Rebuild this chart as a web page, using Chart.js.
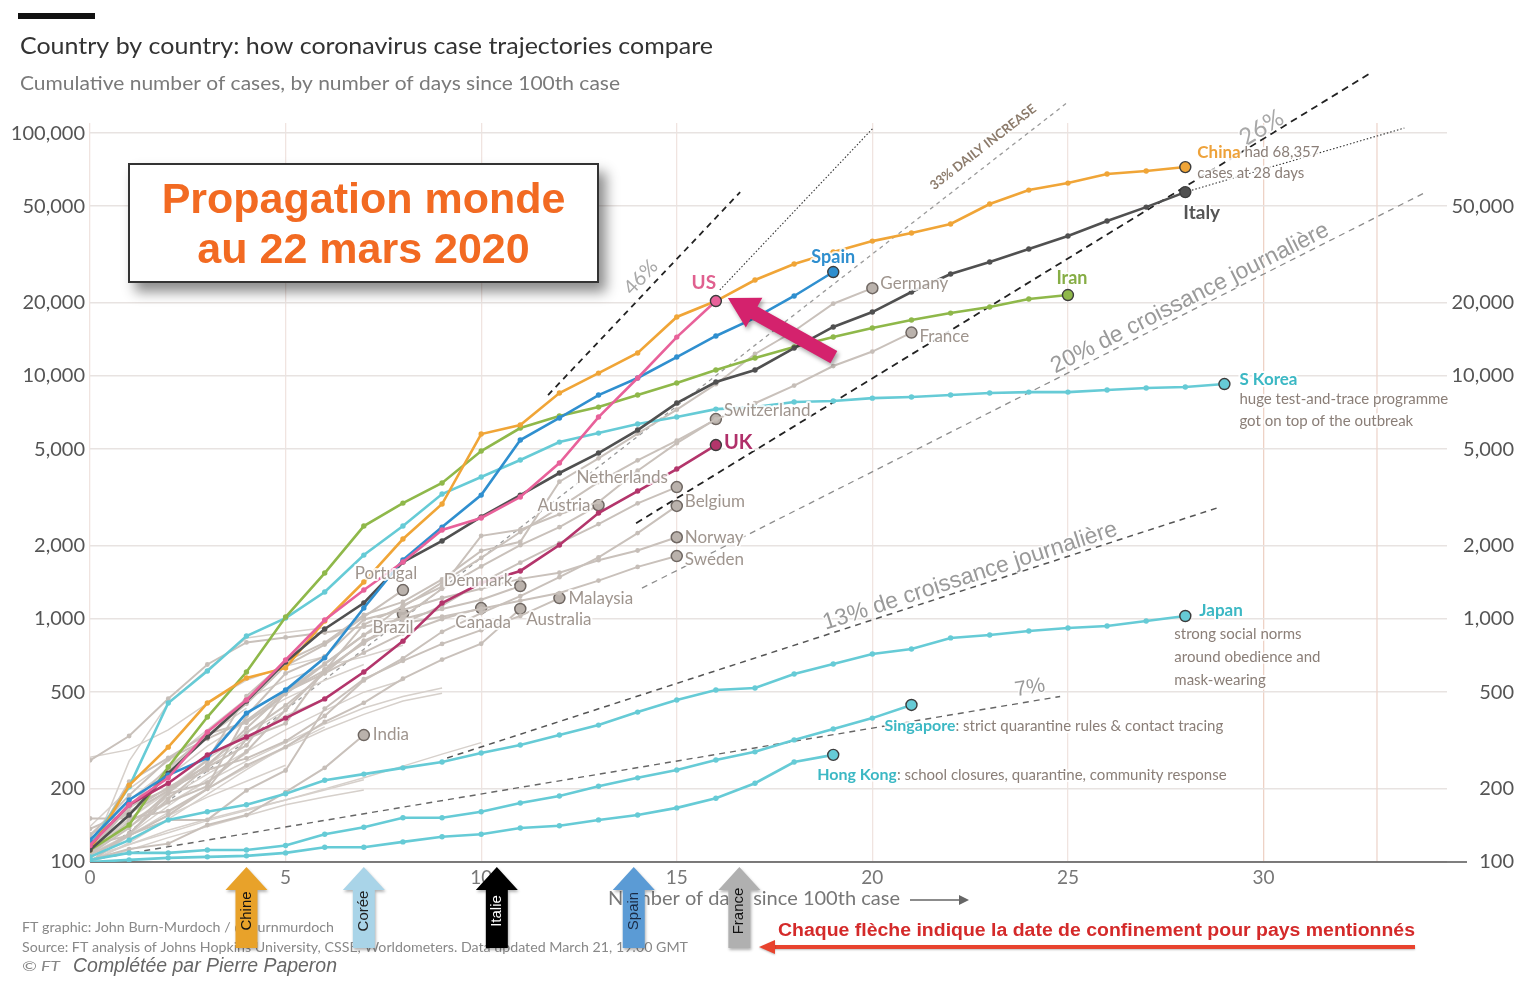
<!DOCTYPE html>
<html>
<head>
<meta charset="utf-8">
<script src="https://cdn.jsdelivr.net/npm/chart.js@4.4.1/dist/chart.umd.min.js"></script>
<style>
  html, body { margin: 0; padding: 0; background: #fff; }
  #wrap { position: relative; width: 1536px; height: 998px; overflow: hidden; }
  #chart { position: absolute; left: 0; top: 0; }
  #box {
    position: absolute; left: 128px; top: 163px; width: 467px; height: 116px;
    border: 2px solid #333; background: #fff;
    box-shadow: 7px 9px 12px rgba(0,0,0,0.45);
    display: flex; flex-direction: column; align-items: center; justify-content: center;
    font-family: "Liberation Sans", Arial, sans-serif; font-weight: bold;
    font-size: 43px; line-height: 50px; color: #f26a22;
  }
</style>
</head>
<body>
<div id="wrap">
  <canvas id="chart" width="1536" height="998"></canvas>
  <div id="box"><div>Propagation monde</div><div>au 22 mars 2020</div></div>
</div>
<script>
// ticks
var yTicks = [100, 200, 500, 1000, 2000, 5000, 10000, 20000, 50000, 100000];
var yTicksRight = [100, 200, 500, 1000, 2000, 5000, 10000, 20000, 50000];
var xTicks = [0, 5, 10, 15, 20, 25, 30];

// cumulative cases, one value per day since 100th case
var china = [112, 207, 297, 451, 572, 629, 982, 1420, 2134, 2973, 5770, 6290, 8510, 10280, 12440, 17500, 20350, 24840, 28900, 32380, 35920, 38760, 42230, 51030, 58250, 62250, 67800, 69800, 72440];
var us = [117, 172, 222, 343, 464, 678, 991, 1316, 1716, 2325, 2605, 3177, 4385, 6780, 9815, 14460, 20350];
var spain = [123, 180, 228, 268, 410, 510, 692, 1110, 1750, 2390, 3236, 5455, 6720, 8350, 9815, 11970, 14620, 17340, 21350, 26800];
var italy = [112, 156, 232, 327, 460, 665, 910, 1164, 1716, 2095, 2630, 3236, 3990, 4820, 5995, 7740, 9445, 10590, 13040, 15920, 18340, 22180, 26300, 29450, 33330, 37690, 43450, 49570, 57150];
var iran = [112, 142, 246, 395, 605, 1019, 1546, 2413, 3000, 3630, 4912, 6110, 6845, 7450, 8350, 9360, 10590, 11860, 13160, 14470, 15760, 17000, 18160, 19230, 20750, 21550];
var korea = [117, 204, 451, 611, 851, 1009, 1291, 1833, 2413, 3268, 3840, 4510, 5347, 5824, 6345, 6780, 7310, 7450, 7815, 7890, 8110, 8200, 8350, 8510, 8590, 8590, 8755, 8930, 9010, 9270];
var uk = [117, 172, 211, 276, 327, 391, 469, 605, 811, 1164, 1406, 1577, 2017, 2730, 3363, 4142, 5200];
var japan = [105, 123, 149, 161, 172, 191, 217, 230, 244, 258, 281, 303, 333, 366, 414, 464, 510, 520, 594, 653, 718, 753, 836, 859, 893, 918, 936, 982, 1029];
var singapore = [102, 109, 109, 112, 112, 117, 130, 139, 152, 152, 161, 175, 187, 205, 222, 239, 263, 284, 318, 353, 391, 443];
var hongKong = [100, 102, 104, 105, 106, 109, 115, 115, 121, 127, 130, 138, 141, 149, 156, 167, 183, 211, 258, 276];

var germany = [130, 159, 196, 262, 482, 670, 799, 1040, 1176, 1457, 1908, 2078, 3675, 4585, 5795, 7272, 9257, 12327, 15320, 19848, 23000];
var france = [100, 130, 191, 212, 285, 423, 613, 949, 1126, 1412, 1784, 2281, 2876, 3661, 4499, 5423, 6633, 7730, 9134, 10995, 12612, 15100];
var switzerland = [114, 214, 268, 337, 374, 491, 652, 858, 1139, 1359, 2200, 2330, 2700, 3028, 4075, 5294, 6650];
var netherlands = [128, 188, 265, 321, 382, 503, 614, 804, 959, 1135, 1413, 1705, 2051, 2460, 2994, 3490];
var belgium = [109, 169, 200, 239, 267, 314, 399, 559, 689, 886, 1058, 1243, 1486, 1795, 2257, 2920];
var austria = [104, 131, 182, 246, 302, 504, 655, 860, 1018, 1332, 1646, 2013, 2388, 2940];
var norway = [108, 147, 176, 205, 400, 598, 702, 996, 1090, 1221, 1333, 1463, 1550, 1746, 1914, 2170];
var sweden = [137, 161, 203, 248, 355, 500, 599, 814, 961, 1022, 1103, 1190, 1279, 1439, 1639, 1816];
var denmark = [262, 330, 470, 650, 801, 840, 880, 930, 1000, 1100, 1200, 1367];
var malaysia = [117, 129, 149, 149, 197, 238, 428, 566, 673, 790, 900, 1030, 1219];
var canada = [108, 138, 193, 252, 341, 441, 598, 727, 873, 1000, 1109];
var australia = [107, 128, 156, 200, 250, 297, 377, 452, 568, 681, 791, 1100];
var portugal = [112, 169, 245, 331, 448, 642, 785, 1020, 1315];
var brazil = [151, 151, 162, 200, 321, 372, 621, 793, 1049];
var india = [102, 113, 119, 142, 156, 194, 244, 333];

// unlabelled countries (thin grey lines)
var otherLines = [
  [270, 290, 350, 450, 560, 640, 700],
  [105, 260, 450, 620, 835, 880, 920],
  [105, 118, 132, 148, 163, 180, 200, 222, 248, 278, 310],
  [110, 140, 175, 215, 260, 310, 370, 430, 480, 520],
  [100, 128, 160, 200, 245, 295, 350, 405, 460, 495],
  [118, 150, 195, 250, 320, 400, 470],
  [100, 112, 126, 140, 155, 172, 185, 198],
  [102, 118, 135, 150, 165, 180, 198, 218],
  [112, 150, 200, 265, 340, 420],
  [125, 165, 225, 300, 380, 470, 560, 650],
  [100, 130, 170, 220, 280],
  [108, 130, 155, 185, 215, 250],
  [115, 145, 185, 230, 285, 350, 420, 500, 560],
  [100, 120, 150, 190, 240, 300, 360],
  [130, 180, 240, 330, 430],
  [140, 200, 260, 350, 470, 560, 640, 700, 780]
];

// growth guide lines: [day, cases] at both ends
var line46 = [[11.71, 8350], [16.62, 57150]];
var lineDottedUS = [[16.10, 22600], [20.02, 104900]];
var line33 = [[0, 100], [24.97, 133000]];
var line26 = [[13.96, 2480], [32.77, 178000]];
var lineDottedItaly = [[28, 57150], [33.6, 104900]];
var line20 = [[14.11, 1340], [34.1, 56600]];
var line13 = [[9.13, 268], [28.8, 2860]];
var line7 = [[0, 102], [24.8, 480]];

// lockdown arrows under the axis
var lockdownNames = ['Chine', 'Corée', 'Italie', 'Spain', 'France'];
var lockdownDays = [4.0, 7.0, 10.4, 13.9, 16.6];

var CYAN = '#66cbd6';
var GREYLINE = '#c9c1bb';

var mainSeries = [
  { name: 'US', data: us, color: '#e8619a' },
  { name: 'UK', data: uk, color: '#b3356b' },
  { name: 'Spain', data: spain, color: '#2f8fcf' },
  { name: 'Italy', data: italy, color: '#505050' },
  { name: 'China', data: china, color: '#f0a537' },
  { name: 'Iran', data: iran, color: '#8fb84a' },
  { name: 'S Korea', data: korea, color: CYAN },
  { name: 'Japan', data: japan, color: CYAN },
  { name: 'Singapore', data: singapore, color: CYAN },
  { name: 'Hong Kong', data: hongKong, color: CYAN }
];
var greySeries = [
  { name: 'Germany', data: germany }, { name: 'France', data: france },
  { name: 'Switzerland', data: switzerland }, { name: 'Netherlands', data: netherlands },
  { name: 'Belgium', data: belgium }, { name: 'Austria', data: austria },
  { name: 'Norway', data: norway }, { name: 'Sweden', data: sweden },
  { name: 'Denmark', data: denmark }, { name: 'Malaysia', data: malaysia },
  { name: 'Canada', data: canada }, { name: 'Australia', data: australia },
  { name: 'Portugal', data: portugal }, { name: 'Brazil', data: brazil },
  { name: 'India', data: india }
];
var guides = [
  { name: 'g46', data: line46, color: '#222', width: 1.8, dash: [6, 5] },
  { name: 'gUS', data: lineDottedUS, color: '#333', width: 1.1, dash: [1.5, 2] },
  { name: 'g33', data: line33, color: '#9a9a9a', width: 1.3, dash: [4, 4] },
  { name: 'g26', data: line26, color: '#222', width: 1.8, dash: [7, 5] },
  { name: 'gIt', data: lineDottedItaly, color: '#333', width: 1.1, dash: [1.5, 2] },
  { name: 'g20', data: line20, color: '#8d8d8d', width: 1.3, dash: [6, 5] },
  { name: 'g13', data: line13, color: '#555', width: 1.5, dash: [6, 5] },
  { name: 'g7', data: line7, color: '#666', width: 1.4, dash: [6, 5] }
];

function toPoints(arr) { return arr.map(function (v, i) { return { x: i, y: v }; }); }
function isLast(c) { return c.dataIndex === c.dataset.data.length - 1; }

var datasets = [];
mainSeries.forEach(function (s, i) {
  datasets.push({
    label: s.name, data: toPoints(s.data), borderColor: s.color, borderWidth: 2.6,
    pointRadius: function (c) { return isLast(c) ? 5.5 : 2.7; },
    pointBackgroundColor: s.color,
    pointBorderColor: function (c) { return isLast(c) ? '#3c3c3c' : s.color; },
    pointBorderWidth: function (c) { return isLast(c) ? 1.4 : 0; },
    order: i
  });
});
greySeries.forEach(function (s, i) {
  datasets.push({
    label: s.name, data: toPoints(s.data), borderColor: GREYLINE, borderWidth: 2,
    pointRadius: function (c) { return isLast(c) ? 5.5 : 2.4; },
    pointBackgroundColor: function (c) { return isLast(c) ? '#bab2ac' : '#c6beb8'; },
    pointBorderColor: function (c) { return isLast(c) ? '#6f6762' : '#c6beb8'; },
    pointBorderWidth: function (c) { return isLast(c) ? 1.5 : 0; },
    order: 20 + i
  });
});
otherLines.forEach(function (arr, i) {
  datasets.push({
    label: 'other' + i, data: toPoints(arr), borderColor: '#d6d0cb', borderWidth: 1.5,
    pointRadius: 0, order: 50 + i
  });
});
guides.forEach(function (g, i) {
  datasets.push({
    label: g.name, data: g.data.map(function (p) { return { x: p[0], y: p[1] }; }),
    borderColor: g.color, borderWidth: g.width, borderDash: g.dash,
    pointRadius: 0, clip: false, order: 100 + i
  });
});

// labels next to the last point of a series
var seriesLabels = [
  { series: 'China', text: 'China', dx: 12, dy: -15, color: '#eea23a', font: 'bold 17px Lato',
    suffix: ' had 68,357', lines: ['cases at 28 days'], ldx: 12, ldy: 6 },
  { series: 'Italy', text: 'Italy', dx: -2, dy: 21, color: '#555', font: 'bold 19px Lato' },
  { series: 'Spain', text: 'Spain', dx: 0, dy: -15, align: 'center', color: '#2f8fcf', font: 'bold 18px Lato' },
  { series: 'US', text: 'US', dx: -12, dy: -18, align: 'center', color: '#e0608f', font: 'bold 19px Lato' },
  { series: 'Germany', text: 'Germany', dx: 8, dy: -5, color: '#9f958e', font: '17px Lato' },
  { series: 'France', text: 'France', dx: 8, dy: 4, color: '#9f958e', font: '17px Lato' },
  { series: 'Iran', text: 'Iran', dx: 4, dy: -17, align: 'center', color: '#86ad45', font: 'bold 18px Lato' },
  { series: 'S Korea', text: 'S Korea', dx: 15, dy: -5, color: '#3cb8c4', font: 'bold 17px Lato',
    lines: ['huge test-and-trace programme', 'got on top of the outbreak'], ldx: 15, ldy: 15 },
  { series: 'Switzerland', text: 'Switzerland', dx: 8, dy: -9, color: '#9f958e', font: '17px Lato' },
  { series: 'UK', text: 'UK', dx: 8, dy: -2, color: '#b0306a', font: 'bold 20px Lato' },
  { series: 'Netherlands', text: 'Netherlands', dx: -9, dy: -10, align: 'right', color: '#9f958e', font: '17px Lato' },
  { series: 'Belgium', text: 'Belgium', dx: 8, dy: -4, color: '#9f958e', font: '17px Lato' },
  { series: 'Austria', text: 'Austria', dx: -8, dy: 0, align: 'right', color: '#9f958e', font: '17px Lato' },
  { series: 'Norway', text: 'Norway', dx: 8, dy: 0, color: '#9f958e', font: '17px Lato' },
  { series: 'Sweden', text: 'Sweden', dx: 8, dy: 3, color: '#9f958e', font: '17px Lato' },
  { series: 'Denmark', text: 'Denmark', dx: -8, dy: -6, align: 'right', color: '#9f958e', font: '17px Lato' },
  { series: 'Malaysia', text: 'Malaysia', dx: 9, dy: 0, color: '#9f958e', font: '17px Lato' },
  { series: 'Canada', text: 'Canada', dx: 2, dy: 14, align: 'center', color: '#9f958e', font: '17px Lato' },
  { series: 'Australia', text: 'Australia', dx: 6, dy: 11, color: '#9f958e', font: '17px Lato' },
  { series: 'Portugal', text: 'Portugal', dx: -17, dy: -17, align: 'center', color: '#9f958e', font: '17px Lato' },
  { series: 'Brazil', text: 'Brazil', dx: -10, dy: 14, align: 'center', color: '#9f958e', font: '17px Lato' },
  { series: 'India', text: 'India', dx: 9, dy: -1, color: '#9f958e', font: '17px Lato' },
  { series: 'Japan', text: 'Japan', dx: 14, dy: -5, color: '#3cb8c4', font: 'bold 17px Lato',
    lines: ['strong social norms', 'around obedience and', 'mask-wearing'], ldx: -11, ldy: 18 },
  { series: 'Singapore', text: 'Singapore', dx: -27, dy: 21, color: '#3cb8c4', font: 'bold 16px Lato',
    suffix: ': strict quarantine rules & contact tracing' },
  { series: 'Hong Kong', text: 'Hong Kong', dx: -16, dy: 20, color: '#3cb8c4', font: 'bold 16px Lato',
    suffix: ': school closures, quarantine, community response' }
];

// rotated labels along guide lines: anchor [day, cases]
var guideLabels = [
  { guide: line46, at: [14.08, 25500], text: '46%', font: '20px Lato', color: '#a8a8a8' },
  { guide: line33, at: [22.83, 87500], text: '33% DAILY INCREASE', font: 'bold 13px Lato', color: '#8c7b6b' },
  { guide: line26, at: [29.95, 105000], text: '26%', font: '24px Lato', color: '#a8a8a8' },
  { guide: line20, at: [28.12, 20900], text: '20% de croissance journalière', font: '23px "Liberation Sans", Arial', color: '#9a9a9a' },
  { guide: line13, at: [22.5, 1500], text: '13% de croissance journalière', font: '23px "Liberation Sans", Arial', color: '#9a9a9a' },
  { guide: line7, at: [24.03, 520], text: '7%', font: '21px "Liberation Sans", Arial', color: '#9a9a9a' }
];

var NOTE = '#8a7e77';

function fitText(ctx, s, x, y, w, font, color) {
  ctx.save();
  ctx.font = font;
  ctx.fillStyle = color;
  ctx.textBaseline = 'middle';
  ctx.textAlign = 'left';
  var m = ctx.measureText(s).width;
  ctx.translate(x, y);
  if (w) ctx.scale(w / m, 1);
  ctx.fillText(s, 0, 0);
  ctx.restore();
}

function haloText(ctx, s, x, y, font, color, align) {
  ctx.save();
  ctx.font = font;
  ctx.textAlign = align || 'left';
  ctx.textBaseline = 'middle';
  ctx.lineJoin = 'round';
  ctx.lineWidth = 4;
  ctx.strokeStyle = 'rgba(255,255,255,0.85)';
  ctx.strokeText(s, x, y);
  ctx.fillStyle = color;
  ctx.fillText(s, x, y);
  var w = ctx.measureText(s).width;
  ctx.restore();
  return w;
}

function pix(chart, d, v) {
  return { x: chart.scales.x.getPixelForValue(d), y: chart.scales.y.getPixelForValue(v) };
}

function lastPoint(chart, name) {
  var idx = chart.data.datasets.findIndex(function (d) { return d.label === name; });
  var pts = chart.getDatasetMeta(idx).data;
  return pts[pts.length - 1];
}

function upArrow(ctx, x, color, text, textColor) {
  var tip = 867, base = 890, bottom = 948, hw = 21, bw = 11;
  ctx.save();
  ctx.shadowColor = 'rgba(0,0,0,0.3)';
  ctx.shadowBlur = 3;
  ctx.shadowOffsetX = 1;
  ctx.shadowOffsetY = 2;
  ctx.fillStyle = color;
  ctx.beginPath();
  ctx.moveTo(x, tip);
  ctx.lineTo(x + hw, base);
  ctx.lineTo(x + bw, base);
  ctx.lineTo(x + bw, bottom);
  ctx.lineTo(x - bw, bottom);
  ctx.lineTo(x - bw, base);
  ctx.lineTo(x - hw, base);
  ctx.closePath();
  ctx.fill();
  ctx.restore();
  ctx.save();
  ctx.translate(x, 911);
  ctx.rotate(-Math.PI / 2);
  ctx.font = '15px "Liberation Sans", Arial';
  ctx.fillStyle = textColor;
  ctx.textAlign = 'center';
  ctx.textBaseline = 'middle';
  ctx.fillText(text, 0, 0);
  ctx.restore();
}

var decorations = {
  id: 'decorations',
  beforeDatasetsDraw: function (chart) {
    var ctx = chart.ctx, a = chart.chartArea;
    var x = chart.scales.x.getPixelForValue(32.9);
    ctx.save();
    ctx.strokeStyle = '#eed6cc';
    ctx.lineWidth = 1.3;
    ctx.beginPath(); ctx.moveTo(x, a.top); ctx.lineTo(x, a.bottom); ctx.stroke();
    // x axis line
    ctx.strokeStyle = '#555';
    ctx.lineWidth = 1.6;
    ctx.beginPath(); ctx.moveTo(a.left, a.bottom); ctx.lineTo(1467, a.bottom); ctx.stroke();
    ctx.restore();
  },
  afterDatasetsDraw: function (chart) {
    var ctx = chart.ctx;
    // guide labels
    guideLabels.forEach(function (g) {
      var p1 = pix(chart, g.guide[0][0], g.guide[0][1]);
      var p2 = pix(chart, g.guide[1][0], g.guide[1][1]);
      var ang = Math.atan2(p2.y - p1.y, p2.x - p1.x);
      var c = pix(chart, g.at[0], g.at[1]);
      ctx.save();
      ctx.translate(c.x, c.y);
      ctx.rotate(ang);
      ctx.font = g.font;
      ctx.textAlign = 'center';
      ctx.textBaseline = 'middle';
      ctx.lineJoin = 'round';
      ctx.lineWidth = 3;
      ctx.strokeStyle = 'rgba(255,255,255,0.7)';
      ctx.strokeText(g.text, 0, 0);
      ctx.fillStyle = g.color;
      ctx.fillText(g.text, 0, 0);
      ctx.restore();
    });
    // series labels
    seriesLabels.forEach(function (l) {
      var p = lastPoint(chart, l.series);
      var x = p.x + l.dx, y = p.y + l.dy;
      var w = haloText(ctx, l.text, x, y, l.font, l.color, l.align);
      if (l.suffix) haloText(ctx, l.suffix, x + w, y, '15px Lato', NOTE, 'left');
      if (l.lines) {
        l.lines.forEach(function (s, i) {
          haloText(ctx, s, p.x + l.ldx, p.y + l.ldy + i * 22 + (l.series === 'Japan' ? i * 1 : 0), '15px Lato', NOTE, 'left');
        });
      }
    });
    // pink arrow pointing at the US end point
    var u = lastPoint(chart, 'US');
    var tx = u.x + 12, ty = u.y - 3;
    var ex = tx + 106, ey = ty + 59;
    var ang = Math.atan2(ey - ty, ex - tx);
    ctx.save();
    ctx.shadowColor = 'rgba(0,0,0,0.35)';
    ctx.shadowBlur = 4;
    ctx.shadowOffsetX = 2;
    ctx.shadowOffsetY = 3;
    ctx.translate(tx, ty);
    ctx.rotate(ang);
    var len = Math.hypot(ex - tx, ey - ty);
    ctx.fillStyle = '#d4226d';
    ctx.beginPath();
    ctx.moveTo(0, 0);
    ctx.lineTo(30, -17);
    ctx.lineTo(30, -7);
    ctx.lineTo(len, -7);
    ctx.lineTo(len, 7);
    ctx.lineTo(30, 7);
    ctx.lineTo(30, 17);
    ctx.closePath();
    ctx.fill();
    ctx.restore();
  },
  afterDraw: function (chart) {
    var ctx = chart.ctx;
    ctx.save();
    ctx.fillStyle = '#111';
    ctx.fillRect(18, 13, 77, 6);
    ctx.restore();
    fitText(ctx, 'Country by country: how coronavirus case trajectories compare', 20, 47, 693, '23px Lato', '#333');
    fitText(ctx, 'Cumulative number of cases, by number of days since 100th case', 20, 84, 600, '19.5px Lato', '#7a7a7a');

    // axis title with arrow
    fitText(ctx, 'Number of days since 100th case', 608, 899, 292, '19px Lato', '#777');
    ctx.save();
    ctx.strokeStyle = '#666';
    ctx.fillStyle = '#666';
    ctx.lineWidth = 1.5;
    ctx.beginPath(); ctx.moveTo(910, 900); ctx.lineTo(962, 900); ctx.stroke();
    ctx.beginPath(); ctx.moveTo(969, 900); ctx.lineTo(959, 895); ctx.lineTo(959, 905); ctx.closePath(); ctx.fill();
    ctx.restore();

    // footer
    fitText(ctx, 'FT graphic: John Burn-Murdoch / @jburnmurdoch', 22, 927, 312, '14px Lato', '#888');
    fitText(ctx, 'Source: FT analysis of Johns Hopkins University, CSSE, Worldometers. Data updated March 21, 19:00 GMT', 22, 947, 666, '14px Lato', '#888');
    fitText(ctx, '© FT', 22, 967, 38, 'italic 13px Lato', '#888');
    fitText(ctx, 'Complétée par Pierre Paperon', 73, 966, 264, 'italic 20px "Liberation Sans", Arial', '#666');

    // lockdown arrows
    var colors = ['#e8a22a', '#a9d4e8', '#000000', '#5b9bd5', '#b0b0b0'];
    var tcolors = ['#111', '#222', '#fff', '#1a2a44', '#111'];
    lockdownDays.forEach(function (d, i) {
      upArrow(ctx, chart.scales.x.getPixelForValue(d), colors[i], lockdownNames[i], tcolors[i]);
    });

    // red note and arrow
    fitText(ctx, 'Chaque flèche indique la date de confinement pour pays mentionnés', 778, 931, 637, 'bold 18px "Liberation Sans", Arial', '#d42a2a');
    ctx.save();
    ctx.shadowColor = 'rgba(0,0,0,0.25)';
    ctx.shadowBlur = 2;
    ctx.shadowOffsetY = 1;
    ctx.strokeStyle = '#e8432e';
    ctx.fillStyle = '#e8432e';
    ctx.lineWidth = 4;
    ctx.beginPath(); ctx.moveTo(1415, 947); ctx.lineTo(772, 947); ctx.stroke();
    ctx.beginPath(); ctx.moveTo(759, 947); ctx.lineTo(775, 940); ctx.lineTo(775, 954); ctx.closePath(); ctx.fill();
    ctx.restore();
  }
};

function setTicks(list) {
  return function (scale) { scale.ticks = list.map(function (v) { return { value: v }; }); };
}

var yFont = { family: 'Lato', size: 20 };

new Chart(document.getElementById('chart'), {
  type: 'line',
  data: { datasets: datasets },
  plugins: [decorations],
  options: {
    responsive: false,
    animation: false,
    devicePixelRatio: 1,
    events: [],
    layout: { padding: { left: 0, right: 22, top: 123, bottom: 0 } },
    elements: { line: { tension: 0 } },
    plugins: { legend: { display: false }, tooltip: { enabled: false } },
    scales: {
      x: {
        type: 'linear', min: 0, max: 34.69,
        afterBuildTicks: setTicks(xTicks),
        afterFit: function (s) { s.height = 136; },
        grid: {
          color: function (c) { return c.tick && c.tick.value === 30 ? '#eed2c6' : '#f0e4e0'; },
          lineWidth: 1.3, drawTicks: false
        },
        border: { display: false },
        ticks: { padding: 4, color: '#777', font: { family: 'Lato', size: 19 }, maxRotation: 0, autoSkip: false }
      },
      y: {
        type: 'logarithmic', position: 'left', min: 100, max: 110000,
        afterBuildTicks: setTicks(yTicks),
        afterFit: function (s) { s.width = 90; },
        grid: { color: '#e8e3e1', lineWidth: 1.5, drawTicks: false },
        border: { display: false },
        ticks: { padding: 5, color: '#555', font: yFont, autoSkip: false,
          callback: function (v) { return Number(v).toLocaleString('en-US'); } }
      },
      y2: {
        type: 'logarithmic', position: 'right', min: 100, max: 110000,
        afterBuildTicks: setTicks(yTicksRight),
        afterFit: function (s) { s.width = 67; },
        grid: { display: false, drawTicks: false },
        border: { display: false },
        ticks: { padding: 0, crossAlign: 'far', color: '#555', font: yFont, autoSkip: false,
          callback: function (v) { return Number(v).toLocaleString('en-US'); } }
      }
    }
  }
});
</script>
</body>
</html>
